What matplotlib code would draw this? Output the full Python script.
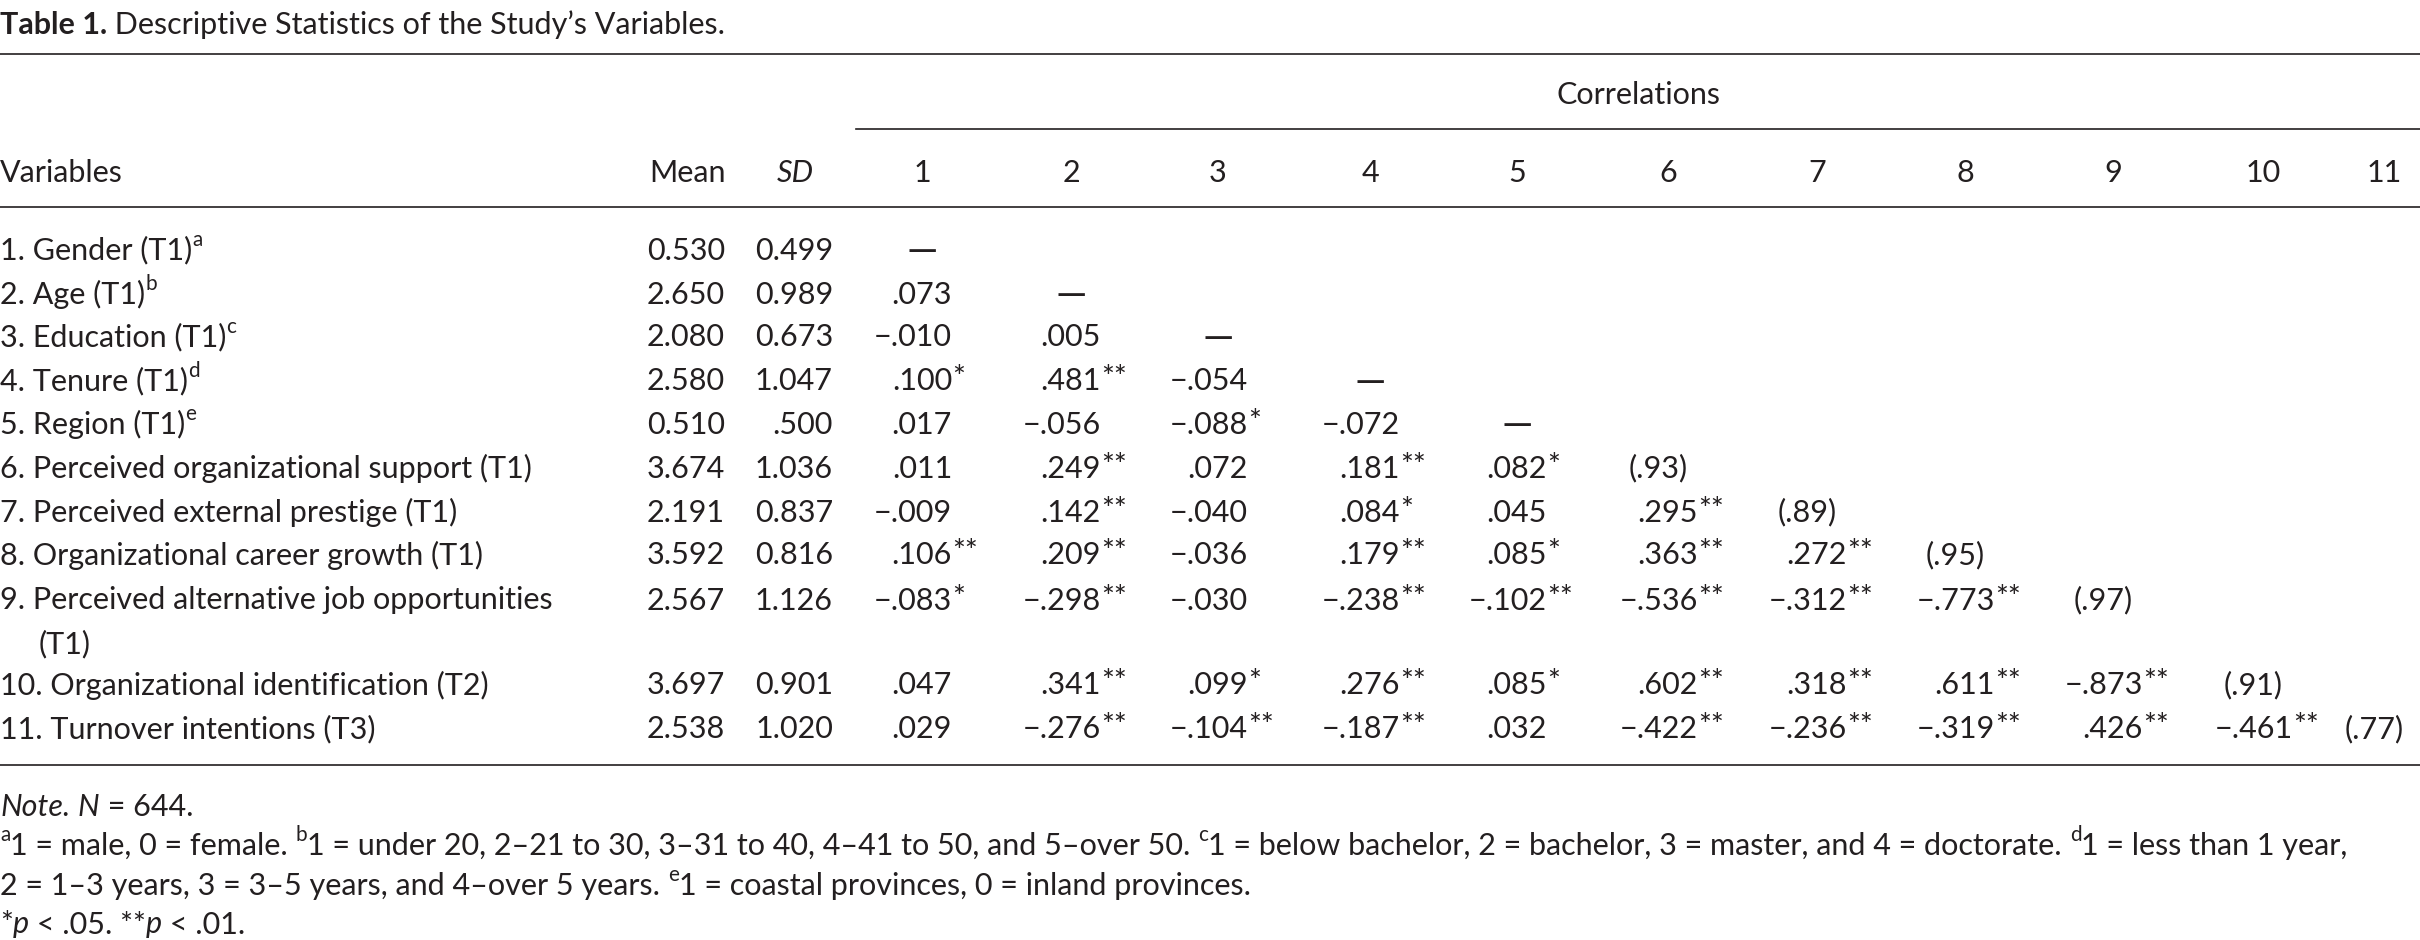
import matplotlib
matplotlib.use("Agg")
import matplotlib.pyplot as plt

plt.rcParams['font.family'] = ['Lato', 'DejaVu Sans']

title_bold = "Table 1."
title_rest = " Descriptive Statistics of the Study\u2019s Variables."
variables = ["1. Gender (T1)", "2. Age (T1)", "3. Education (T1)", "4. Tenure (T1)",
             "5. Region (T1)", "6. Perceived organizational support (T1)",
             "7. Perceived external prestige (T1)", "8. Organizational career growth (T1)",
             "9. Perceived alternative job opportunities", "10. Organizational identification (T2)",
             "11. Turnover intentions (T3)"]
var_sups = ["a", "b", "c", "d", "e", "", "", "", "", "", ""]
means = ["0.530", "2.650", "2.080", "2.580", "0.510", "3.674", "2.191", "3.592", "2.567", "3.697", "2.538"]
sds = ["0.499", "0.989", "0.673", "1.047", ".500", "1.036", "0.837", "0.816", "1.126", "0.901", "1.020"]
M = "\u2212"
corr = [
    ["\u2014"],
    [".073", "\u2014"],
    [M+".010", ".005", "\u2014"],
    [".100*", ".481**", M+".054", "\u2014"],
    [".017", M+".056", M+".088*", M+".072", "\u2014"],
    [".011", ".249**", ".072", ".181**", ".082*", "(.93)"],
    [M+".009", ".142**", M+".040", ".084*", ".045", ".295**", "(.89)"],
    [".106**", ".209**", M+".036", ".179**", ".085*", ".363**", ".272**", "(.95)"],
    [M+".083*", M+".298**", M+".030", M+".238**", M+".102**", M+".536**", M+".312**", M+".773**", "(.97)"],
    [".047", ".341**", ".099*", ".276**", ".085*", ".602**", ".318**", ".611**", M+".873**", "(.91)"],
    [".029", M+".276**", M+".104**", M+".187**", ".032", M+".422**", M+".236**", M+".319**", ".426**", M+".461**", "(.77)"],
]
col_labels = [str(i) for i in range(1, 12)]

W, H = 2420, 940
fig = plt.figure(figsize=(W/100, H/100), dpi=100)
ax = fig.add_axes([0, 0, 1, 1])
ax.set_xlim(0, W); ax.set_ylim(H, 0); ax.axis('off')
r = fig.canvas.get_renderer()
FS = 22
C = '#231f20'

def width(t):
    return t.get_window_extent(r).width

def runs(x, y, parts):
    cx = x
    for txt, o in parts:
        fs = FS*0.68 if o.get('sup') else o.get('size', FS)
        dy = -10 if o.get('sup') else 0
        t = ax.text(cx, y+dy, txt, fontsize=fs, color=C, va='center_baseline', ha='left',
                    style=o.get('style', 'normal'), weight=o.get('weight', 'normal'))
        cx += width(t)
    return cx

runs(0, 22, [(title_bold, {'weight': 'bold'}), (title_rest, {})])

for yy in (54, 207, 765):
    ax.plot([0, W], [yy, yy], color=C, lw=1.2)
ax.plot([856, W], [129, 129], color=C, lw=1.2)
ax.text(1638, 92, "Correlations", fontsize=FS, color=C, ha='center', va='center_baseline')

yh = 170
col_x = [922, 1071, 1218, 1370, 1517, 1668, 1817, 1965, 2113, 2263, 2384]
ax.text(0, yh, "Variables", fontsize=FS, color=C, va='center_baseline')
ax.text(687, yh, "Mean", fontsize=FS, color=C, ha='center', va='center_baseline')
ax.text(795, yh, "SD", fontsize=FS, color=C, ha='center', va='center_baseline', style='italic')
for cx, lab in zip(col_x, col_labels):
    ax.text(cx, yh, lab, fontsize=FS, color=C, ha='center', va='center_baseline')

row_y = [248, 292, 335, 379, 422, 466, 510, 553, 598, 683, 727]
for i, (v, s) in enumerate(zip(variables, var_sups)):
    y = row_y[i]
    parts = [(v, {})]
    if s:
        parts.append((s, {'sup': True}))
    runs(0, y, parts)
    if i == 8:
        ax.text(39, 642, "(T1)", fontsize=FS, color=C, va='center_baseline')
    ax.text(725, y, means[i], fontsize=FS, color=C, ha='right', va='center_baseline')
    ax.text(833, y, sds[i], fontsize=FS, color=C, ha='right', va='center_baseline')
    for j, val in enumerate(corr[i]):
        cx = col_x[j]
        if val == "\u2014":
            ax.text(cx, y, val, fontsize=FS*1.3, color=C, ha='center', va='center_baseline')
        elif val.startswith("("):
            ax.text(cx + 20, y, val, fontsize=FS, color=C, ha='right', va='center_baseline')
        else:
            num = val.rstrip('*')
            stars = val[len(num):]
            ax.text(cx + 30, y, num, fontsize=FS, color=C, ha='right', va='center_baseline')
            if stars:
                ax.text(cx + 30, y - 3, stars, fontsize=FS, color=C, ha='left', va='center_baseline')

runs(0, 805, [("Note.", {'style': 'italic'}), (" ", {}), ("N", {'style': 'italic'}), (" = 644.", {})])
runs(0, 843, [("a", {'sup': True}), ("1 = male, 0 = female. ", {}), ("b", {'sup': True}),
              ("1 = under 20, 2\u201321 to 30, 3\u201331 to 40, 4\u201341 to 50, and 5\u2013over 50. ", {}),
              ("c", {'sup': True}), ("1 = below bachelor, 2 = bachelor, 3 = master, and 4 = doctorate. ", {}),
              ("d", {'sup': True}), ("1 = less than 1 year,", {})])
runs(0, 883, [("2 = 1\u20133 years, 3 = 3\u20135 years, and 4\u2013over 5 years. ", {}), ("e", {'sup': True}),
              ("1 = coastal provinces, 0 = inland provinces.", {})])
runs(0, 922, [("*", {}), ("p", {'style': 'italic'}), (" < .05. **", {}), ("p", {'style': 'italic'}), (" < .01.", {})])

fig.savefig("out.png", dpi=100)
